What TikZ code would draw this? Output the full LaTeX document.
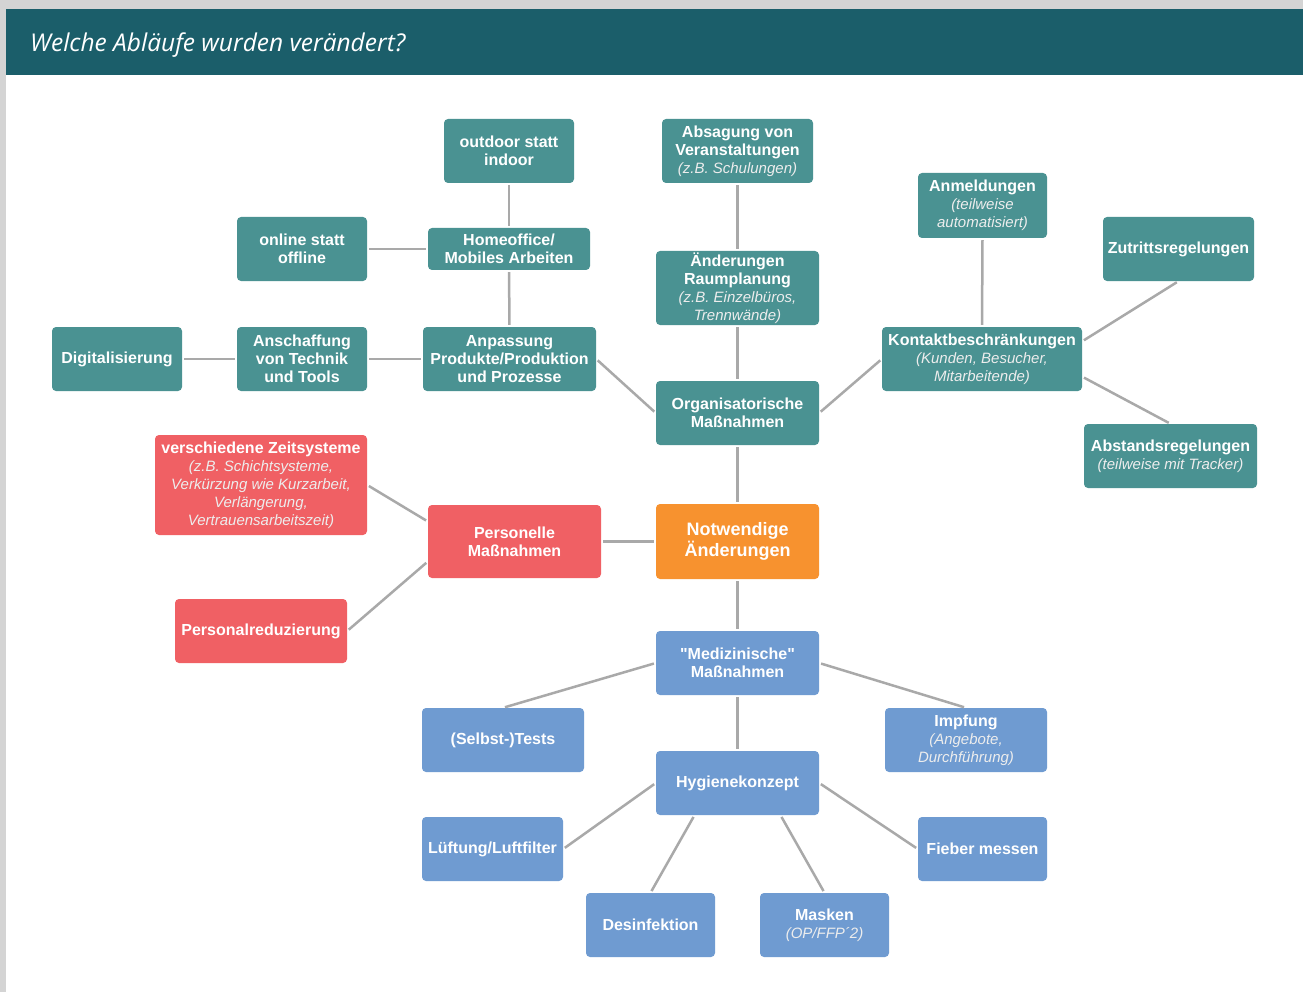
\documentclass[tikz,border=0pt]{standalone}
\usepackage{fontspec}
\setmainfont{Liberation Sans}[Ligatures=TeXOff]
\newfontfamily\titlefont{Open Sans}
\usetikzlibrary{calc}
\definecolor{hdr}{HTML}{1B5E6A}
\definecolor{edgegray}{HTML}{D4D4D4}
\definecolor{tealbox}{HTML}{4A9292}
\definecolor{redbox}{HTML}{F06064}
\definecolor{orangebox}{HTML}{F7922F}
\definecolor{bluebox}{HTML}{6F9BD1}
\definecolor{lineg}{HTML}{A9A9A9}
\newcommand{\subt}[1]{{\mdseries\itshape\fontsize{15}{18}\selectfont\color{white!93!black}#1}}
\tikzset{
  box/.style={rectangle, rounded corners=4pt, inner sep=0pt, align=center, text=white,
    font=\bfseries\fontsize{16}{18}\selectfont},
  tbox/.style={box, fill=tealbox},
  rbox/.style={box, fill=redbox},
  obox/.style={box, fill=orangebox, font=\bfseries\fontsize{18}{21}\selectfont},
  bbox/.style={box, fill=bluebox},
  conn/.style={draw=lineg, line width=2.5pt, shorten >=2pt, shorten <=2pt},
}
\begin{document}
\begin{tikzpicture}[x=1pt,y=-1pt]
\useasboundingbox (0,0) rectangle (1303,992);
\fill[white] (0,0) rectangle (1303,992);
\fill[edgegray] (0,0) rectangle (1303,9);
\fill[edgegray] (0,0) rectangle (6,992);
\fill[hdr] (6,9) rectangle (1303,75);
\node[anchor=base west, inner sep=0pt, text=white, font=\titlefont\itshape\fontsize{24.5}{28}\selectfont] (title) at (30,52) {Welche Abläufe wurden verändert?};

% teal: organisational
\node[tbox, minimum width=130pt, minimum height=64pt] (outd) at (509,151) {outdoor statt\\indoor};
\node[tbox, minimum width=130pt, minimum height=64pt] (onl) at (302,249) {online statt\\offline};
\node[tbox, minimum width=162pt, minimum height=42pt] (home) at (509,249) {Homeoffice/\\Mobiles Arbeiten};
\node[tbox, minimum width=130pt, minimum height=64pt] (digi) at (117,359) {Digitalisierung};
\node[tbox, minimum width=130pt, minimum height=64pt] (ansch) at (302,359) {Anschaffung\\von Technik\\und Tools};
\node[tbox, minimum width=173pt, minimum height=64pt] (anp) at (509.5,359) {Anpassung\\Produkte/Produktion\\und Prozesse};
\node[tbox, minimum width=151pt, minimum height=64pt] (absg) at (737.5,151) {Absagung von\\Veranstaltungen\\\subt{(z.B. Schulungen)}};
\node[tbox, minimum width=163pt, minimum height=74pt] (raum) at (737.5,288) {Änderungen\\Raumplanung\\\subt{(z.B. Einzelbüros,}\\\subt{Trennwände)}};
\node[tbox, minimum width=163pt, minimum height=64pt] (org) at (737.5,413) {Organisatorische\\Maßnahmen};
\node[tbox, minimum width=129pt, minimum height=65pt] (anm) at (982.5,205.5) {Anmeldungen\\\subt{(teilweise}\\\subt{automatisiert)}};
\node[tbox, minimum width=151pt, minimum height=64pt] (zut) at (1178.5,249) {Zutrittsregelungen};
\node[tbox, minimum width=200pt, minimum height=64pt] (kon) at (982,359) {Kontaktbeschränkungen\\\subt{(Kunden, Besucher,}\\\subt{Mitarbeitende)}};
\node[tbox, minimum width=173pt, minimum height=64pt] (abst) at (1170.5,456) {Abstandsregelungen\\\subt{(teilweise mit Tracker)}};

% red: personnel
\node[rbox, minimum width=212pt, minimum height=100pt] (zeit) at (261,485) {verschiedene Zeitsysteme\\\subt{(z.B. Schichtsysteme,}\\\subt{Verkürzung wie Kurzarbeit,}\\\subt{Verlängerung,}\\\subt{Vertrauensarbeitszeit)}};
\node[rbox, minimum width=173pt, minimum height=73pt] (pers) at (514.5,541.5) {Personelle\\Maßnahmen};
\node[rbox, minimum width=172pt, minimum height=64pt] (pred) at (261,631) {Personalreduzierung};

% orange: centre
\node[obox, minimum width=163pt, minimum height=75pt] (notw) at (737.5,541.5) {Notwendige\\Änderungen};

% blue: medical
\node[bbox, minimum width=163pt, minimum height=64pt] (med) at (737.5,663) {"Medizinische"\\Maßnahmen};
\node[bbox, minimum width=162pt, minimum height=64pt] (test) at (503,740) {(Selbst-)Tests};
\node[bbox, minimum width=162pt, minimum height=64pt] (impf) at (966,740) {Impfung\\\subt{(Angebote,}\\\subt{Durchführung)}};
\node[bbox, minimum width=163pt, minimum height=64pt] (hyg) at (737.5,783) {Hygienekonzept};
\node[bbox, minimum width=141pt, minimum height=64pt] (luef) at (492.5,849) {Lüftung/Luftfilter};
\node[bbox, minimum width=129pt, minimum height=64pt] (fieb) at (982.5,849) {Fieber messen};
\node[bbox, minimum width=129pt, minimum height=64pt] (desi) at (650.5,925) {Desinfektion};
\node[bbox, minimum width=129pt, minimum height=64pt] (mask) at (824.5,925) {Masken\\\subt{(OP/FFP´2)}};

% connectors
\draw[conn] (outd.south) -- (home.north);
\draw[conn] (home.west) -- (onl.east);
\draw[conn] (home.south) -- (anp.north);
\draw[conn] (anp.west) -- (ansch.east);
\draw[conn] (ansch.west) -- (digi.east);
\draw[conn] (anp.east) -- (org.west);
\draw[conn] (absg.south) -- (raum.north);
\draw[conn] (raum.south) -- (org.north);
\draw[conn] (org.east) -- (kon.west);
\draw[conn] (anm.south) -- (kon.north);
\draw[conn] (kon.10) -- (zut.south);
\draw[conn] (kon.-10) -- (abst.north);
\draw[conn] (org.south) -- (notw.north);
\draw[conn] (notw.west) -- (pers.east);
\draw[conn] (pers.167) -- (zeit.east);
\draw[conn] (pers.193) -- (pred.east);
\draw[conn] (notw.south) -- (med.north);
\draw[conn] (med.west) -- (test.north);
\draw[conn] (med.east) -- (impf.north);
\draw[conn] (med.south) -- (hyg.north);
\draw[conn] (hyg.west) -- (luef.east);
\draw[conn] (hyg.east) -- (fieb.west);
\draw[conn] ($(hyg.south)+(-43,0)$) -- (desi.north);
\draw[conn] ($(hyg.south)+(43,0)$) -- (mask.north);
\end{tikzpicture}
\end{document}
